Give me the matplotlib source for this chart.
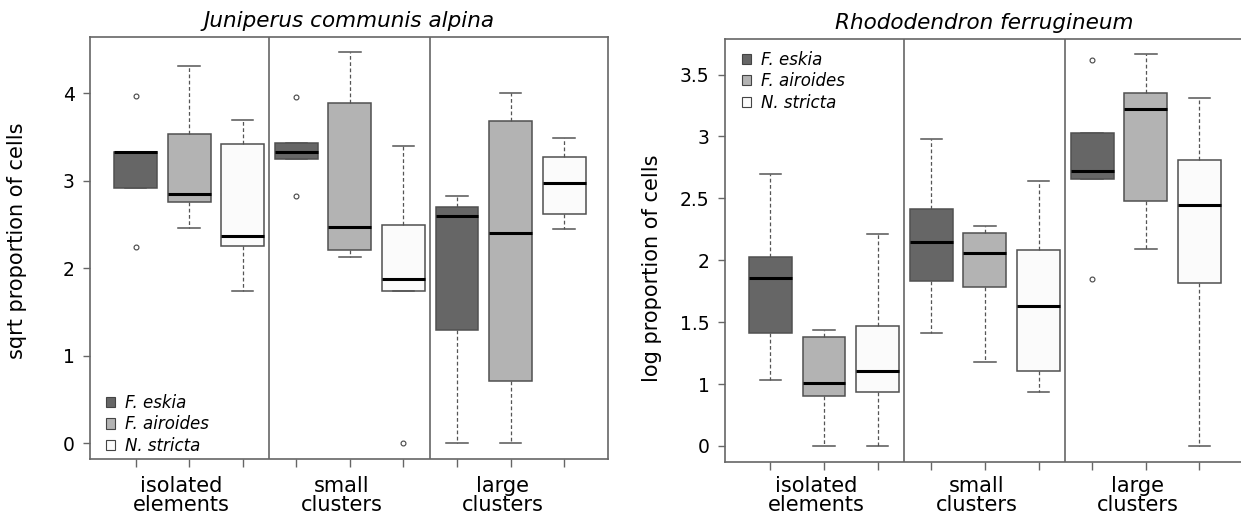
import matplotlib
matplotlib.use("Agg")
import matplotlib.pyplot as plt
import matplotlib.transforms as mtransforms
from matplotlib.patches import Patch

plt.rcParams['font.family'] = ['DejaVu Sans']

species = ["F. eskia", "F. airoides", "N. stricta"]
groups = ["isolated\nelements", "small\nclusters", "large\nclusters"]
fills = ["#666666", "#b3b3b3", "#fbfbfb"]

# Juniperus: (whislo, q1, med, q3, whishi, fliers) per box, group by group
jun_stats = [
    (2.91, 2.91, 3.33, 3.33, 3.33, [3.97, 2.24]),
    (2.46, 2.76, 2.85, 3.53, 4.31, []),
    (1.74, 2.25, 2.37, 3.42, 3.69, []),
    (3.25, 3.25, 3.33, 3.43, 3.43, [3.95, 2.82]),
    (2.13, 2.21, 2.47, 3.89, 4.47, []),
    (1.74, 1.74, 1.88, 2.49, 3.40, [0.0]),
    (0.0, 1.29, 2.59, 2.70, 2.82, []),
    (0.0, 0.71, 2.40, 3.68, 4.00, []),
    (2.45, 2.62, 2.97, 3.27, 3.49, []),
]

# Rhododendron: zero values sit at 0.5 on the plotted scale (labelled "0")
rho_stats = [
    (1.03, 1.415, 1.86, 2.03, 2.70, []),
    (0.5, 0.90, 1.005, 1.38, 1.44, []),
    (0.5, 0.935, 1.105, 1.47, 2.21, []),
    (1.415, 1.83, 2.15, 2.41, 2.98, []),
    (1.18, 1.78, 2.06, 2.22, 2.28, []),
    (0.935, 1.105, 1.63, 2.08, 2.64, []),
    (2.66, 2.66, 2.72, 3.03, 3.03, [3.62, 1.85]),
    (2.09, 2.48, 3.22, 3.35, 3.67, []),
    (0.5, 1.82, 2.45, 2.81, 3.31, []),
]

jun_ticks = [0, 1, 2, 3, 4]
jun_ticklabels = ["0", "1", "2", "3", "4"]
rho_ticks = [0.5, 1, 1.5, 2, 2.5, 3, 3.5]
rho_ticklabels = ["0", "1", "1.5", "2", "2.5", "3", "3.5"]

frame = "#666666"


def draw_panel(ax, stats, title, ylabel, ylim, yticks, yticklabels,
               leg_anchor, ylab_xy, grp_y):
    bxp_stats = []
    for s in stats:
        bxp_stats.append(dict(whislo=s[0], q1=s[1], med=s[2], q3=s[3],
                              whishi=s[4], fliers=s[5]))
    pos = list(range(1, len(stats) + 1))
    bp = ax.bxp(bxp_stats, positions=pos, widths=0.8, capwidths=0.4,
                patch_artist=True, showfliers=True,
                boxprops=dict(edgecolor="#505050", linewidth=1.1),
                medianprops=dict(color="black", linewidth=2.2),
                whiskerprops=dict(color="#555555", linewidth=0.9, linestyle=(0, (3, 2))),
                capprops=dict(color="#555555", linewidth=1.1),
                flierprops=dict(marker="o", markersize=3.5, markerfacecolor="none",
                                markeredgecolor="#444444", markeredgewidth=0.8))
    for i, box in enumerate(bp["boxes"]):
        box.set_facecolor(fills[i % 3])

    for x in [3.5, 6.5]:
        ax.axvline(x, color=frame, linewidth=1.2)

    ax.set_xlim(0.15, 9.82)
    ax.set_ylim(*ylim)
    ax.set_xticks(pos)
    ax.set_xticklabels([])
    ax.tick_params(axis="x", direction="out", length=6, color=frame, width=1.0)
    trans = mtransforms.blended_transform_factory(ax.transData, ax.transAxes)
    for gx, g in zip([2, 5, 8], groups):
        ax.text(gx - 0.15, grp_y, g, transform=trans, ha="center", va="top",
                fontsize=15, linespacing=0.92)

    ax.set_yticks(yticks, yticklabels)
    ax.tick_params(axis="y", direction="out", length=5, color=frame, width=1.0,
                   labelsize=13.5, pad=6)
    for sp in ax.spines.values():
        sp.set_color(frame)
        sp.set_linewidth(1.2)
    ax.set_title(title, fontsize=15.5, style="italic", pad=7)
    ax.set_ylabel(ylabel, fontsize=15)
    ax.yaxis.set_label_coords(*ylab_xy)

    handles = [Patch(facecolor=c, edgecolor="#444444", linewidth=0.8) for c in fills]
    leg = ax.legend(handles, species, loc="center left", bbox_to_anchor=leg_anchor,
                    frameon=False, fontsize=12, borderpad=0, borderaxespad=0,
                    handlelength=0.55, handleheight=0.55, handletextpad=0.6,
                    labelspacing=0.2)
    for t in leg.get_texts():
        t.set_style("italic")


fig = plt.figure(figsize=(12.41, 5.21), dpi=100)
ax1 = fig.add_axes([0.0725, 0.119, 0.4175, 0.81])
ax2 = fig.add_axes([0.584, 0.114, 0.418, 0.811])

draw_panel(ax1, jun_stats, "Juniperus communis alpina", "sqrt proportion of cells",
           (-0.18, 4.64), jun_ticks, jun_ticklabels, (0.03, 0.082),
           (-0.122, 0.517), -0.04)
draw_panel(ax2, rho_stats, "Rhododendron ferrugineum", "log proportion of cells",
           (0.373, 3.787), rho_ticks, rho_ticklabels, (0.033, 0.9),
           (-0.12, 0.457), -0.034)

fig.savefig("out.png", dpi=100)
